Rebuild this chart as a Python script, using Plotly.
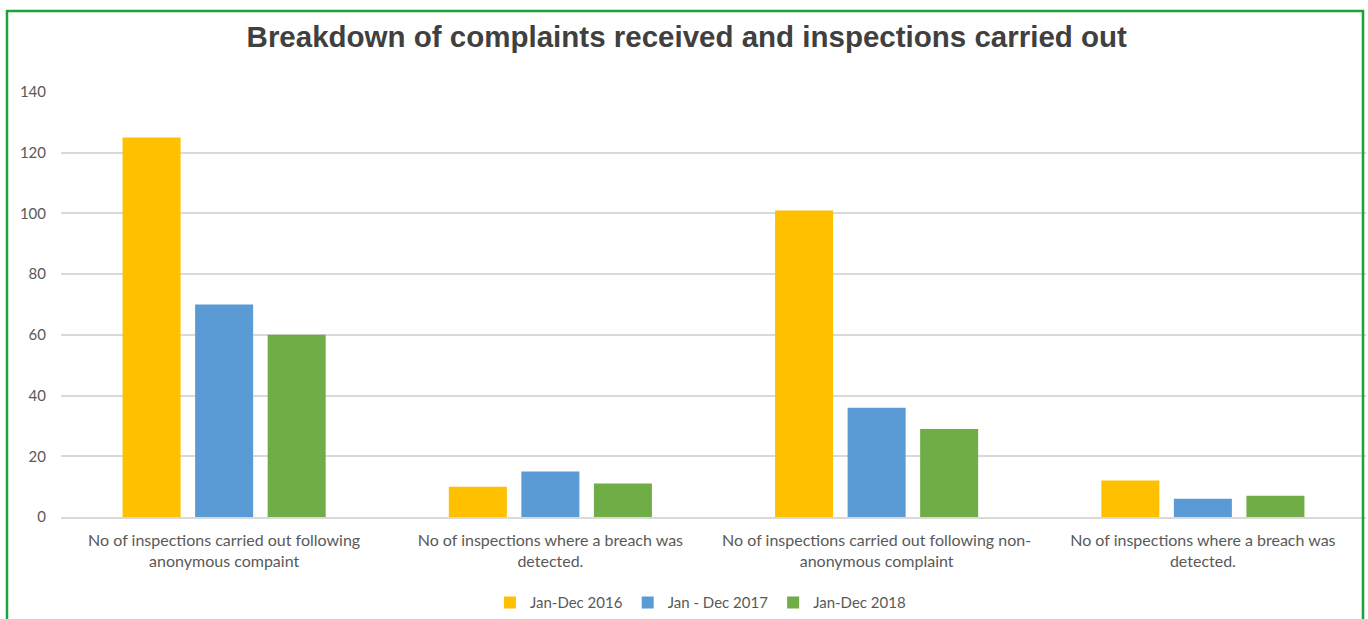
import plotly.graph_objects as go

categories = [
    "No of inspections carried out following<br>anonymous compaint",
    "No of inspections where a breach was<br>detected.",
    "No of inspections carried out following non-<br>anonymous complaint",
    "No of inspections where a breach was<br>detected.",
]
series_names = ["Jan-Dec 2016", "Jan - Dec 2017", "Jan-Dec 2018"]
values_2016 = [125, 10, 101, 12]
values_2017 = [70, 15, 36, 6]
values_2018 = [60, 11, 29, 7]
colors = ["#FFC000", "#5B9BD5", "#70AD47"]
y_ticks = [0, 20, 40, 60, 80, 100, 120, 140]

x_pos = list(range(len(categories)))

fig = go.Figure()
for name, vals, col in zip(series_names, [values_2016, values_2017, values_2018], colors):
    fig.add_trace(go.Bar(x=x_pos, y=vals, name=name, marker=dict(color=col, line=dict(width=0))))

font_family = "Lato, 'Open Sans', sans-serif"

fig.update_layout(
    width=1368, height=619,
    barmode="group", bargap=0.333, bargroupgap=0.2,
    paper_bgcolor="white", plot_bgcolor="white",
    margin=dict(l=61, r=2, t=92, b=102, autoexpand=False),
    title=dict(text="<b>Breakdown of complaints received and inspections carried out</b>",
               x=0.502, xanchor="center", y=0.94, yanchor="middle",
               font=dict(family="Liberation Sans, Arial, sans-serif", size=29.5, color="#404040")),
    font=dict(family=font_family, size=16, color="#595959"),
    legend=dict(orientation="h", x=0.49, xanchor="center", y=-0.202, yanchor="middle",
                font=dict(size=15, color="#595959"), itemwidth=30, traceorder="normal"),
    xaxis=dict(tickmode="array", tickvals=x_pos, ticktext=categories, range=[-0.5, 3.5],
               showgrid=False, showline=True, linecolor="#d9d9d9", linewidth=1.5,
               ticks="", ticklabelstandoff=8, tickfont=dict(size=16, color="#595959"), fixedrange=True),
    yaxis=dict(range=[0, 140], tickvals=y_ticks, showgrid=True, gridcolor="#d9d9d9",
               gridwidth=1.5, zeroline=False, showline=False, ticks="",
               ticklabelstandoff=14, tickfont=dict(size=15, color="#595959")),
    shapes=[dict(type="rect", xref="paper", yref="paper",
                 x0=(7 - 61) / 1305, x1=(1363 - 61) / 1305,
                 y0=-0.3, y1=(517 - 11) / 425,
                 line=dict(color="#1AA33A", width=2.5), fillcolor="rgba(0,0,0,0)", layer="above")],
)

fig.write_html("out.html", config={"displayModeBar": False},
               post_script="document.body.style.margin='0';document.body.style.overflow='hidden';")
